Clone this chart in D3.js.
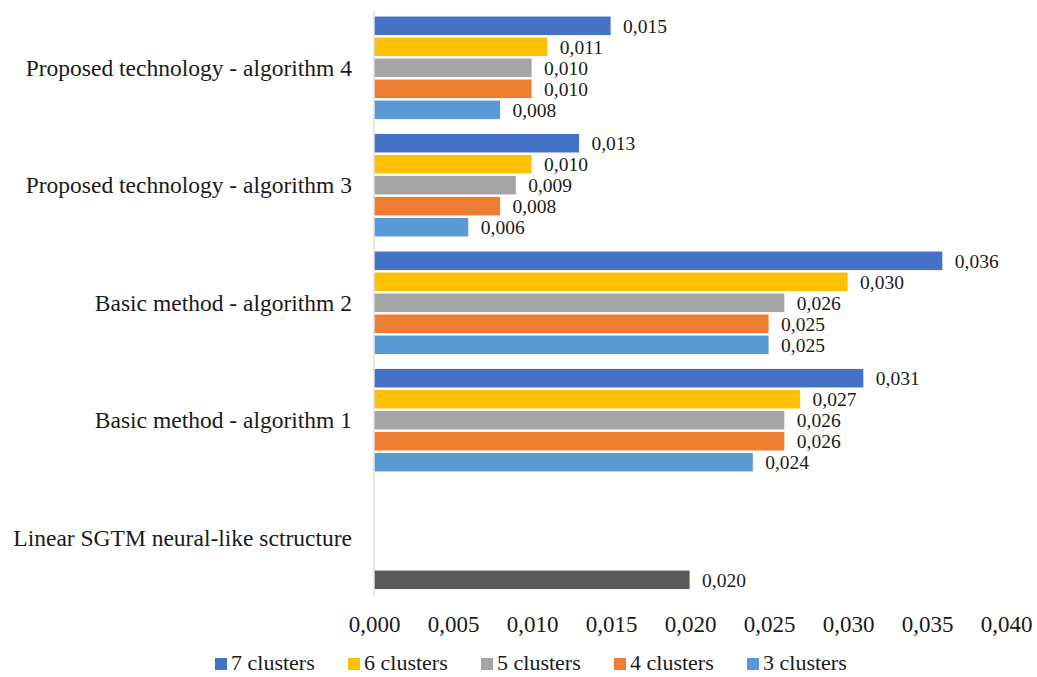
<!DOCTYPE html>
<html>
<head>
<meta charset="utf-8">
<script src="https://cdn.jsdelivr.net/npm/d3@7"></script>
<style>
  html, body { margin: 0; padding: 0; background: #fff; }
  svg { display: block; font-family: "Liberation Serif", "Times New Roman", serif; }
</style>
</head>
<body>
<svg id="chart" width="1037" height="677"></svg>
<script>
// Categories, top to bottom
const categories = [
  "Proposed technology - algorithm 4",
  "Proposed technology - algorithm 3",
  "Basic method - algorithm 2",
  "Basic method - algorithm 1",
  "Linear SGTM neural-like sctructure"
];

// Series names (legend order, and order of bars within a group, top to bottom)
const seriesNames = ["7 clusters", "6 clusters", "5 clusters", "4 clusters", "3 clusters"];
const seriesColors = ["#4472C4", "#FFC000", "#A5A5A5", "#ED7D31", "#5B9BD5"];

// Values per series (null = no bar)
const clusters7 = [0.015, 0.013, 0.036, 0.031, null];
const clusters6 = [0.011, 0.010, 0.030, 0.027, null];
const clusters5 = [0.010, 0.009, 0.026, 0.026, null];
const clusters4 = [0.010, 0.008, 0.025, 0.026, null];
const clusters3 = [0.008, 0.006, 0.025, 0.024, 0.020];

// The single baseline bar is drawn in its own colour
const baselineCategory = "Linear SGTM neural-like sctructure";
const baselineColor = "#595959";

// Axis ticks
const xTicks = [0, 0.005, 0.010, 0.015, 0.020, 0.025, 0.030, 0.035, 0.040];

const seriesValues = [clusters7, clusters6, clusters5, clusters4, clusters3];

const svg = d3.select("#chart");

const x = d3.scaleLinear().domain([0, 0.04]).range([374, 1006]);

const y0 = d3.scaleBand()
  .domain(categories)
  .range([9, 596.5])
  .paddingInner(0.1064)
  .paddingOuter(0.0532);

const y1 = d3.scaleBand()
  .domain(seriesNames)
  .range([0, y0.bandwidth()])
  .paddingInner(0.08)
  .paddingOuter(0.04);

const fmt = v => d3.format(".3f")(v).replace(".", ",");

// Flatten into bar records
const bars = [];
categories.forEach((cat, ci) => {
  seriesNames.forEach((s, si) => {
    const v = seriesValues[si][ci];
    if (v == null) return;
    bars.push({
      cat, series: s, value: v,
      color: cat === baselineCategory ? baselineColor : seriesColors[si]
    });
  });
});

// Bars
svg.append("g").selectAll("rect")
  .data(bars)
  .join("rect")
  .attr("x", x(0))
  .attr("y", d => y0(d.cat) + y1(d.series))
  .attr("width", d => x(d.value) - x(0))
  .attr("height", y1.bandwidth())
  .attr("fill", d => d.color)
  .attr("stroke", "#ffffff")
  .attr("stroke-width", 0.8);

// Value labels
svg.append("g").selectAll("text")
  .data(bars)
  .join("text")
  .attr("x", d => x(d.value) + 12)
  .attr("y", d => y0(d.cat) + y1(d.series) + y1.bandwidth() / 2)
  .attr("dy", "0.35em")
  .attr("font-size", 19.5)
  .attr("fill", "#1a1a1a")
  .text(d => fmt(d.value));

// Vertical category axis line
svg.append("line")
  .attr("x1", x(0)).attr("x2", x(0))
  .attr("y1", y0.range()[0] + 2).attr("y2", y0.range()[1] - 1)
  .attr("stroke", "#D9D9D9")
  .attr("stroke-width", 1.2);

// Category labels
svg.append("g").selectAll("text")
  .data(categories)
  .join("text")
  .attr("x", 352)
  .attr("y", d => y0(d) + y0.bandwidth() / 2)
  .attr("dy", "0.35em")
  .attr("text-anchor", "end")
  .attr("font-size", 23.5)
  .attr("fill", "#1a1a1a")
  .text(d => d);

// Value axis (labels only)
const xAxis = svg.append("g")
  .attr("transform", "translate(0,616)")
  .call(d3.axisBottom(x).tickValues(xTicks).tickFormat(fmt).tickSize(0).tickPadding(0));
xAxis.select(".domain").remove();
xAxis.selectAll("text")
  .attr("font-family", "Liberation Serif, Times New Roman, serif")
  .attr("font-size", 23)
  .attr("fill", "#1a1a1a");

// Legend
const legend = svg.append("g");
const legendX = d3.scaleBand().domain(seriesNames).range([215, 880]);
const item = legend.selectAll("g")
  .data(seriesNames)
  .join("g")
  .attr("transform", d => `translate(${legendX(d)},658)`);
item.append("rect")
  .attr("width", 12).attr("height", 12)
  .attr("fill", (d, i) => seriesColors[i]);
item.append("text")
  .attr("x", 16)
  .attr("y", 12)
  .attr("font-size", 22)
  .attr("fill", "#1a1a1a")
  .text(d => d);
</script>
</body>
</html>
